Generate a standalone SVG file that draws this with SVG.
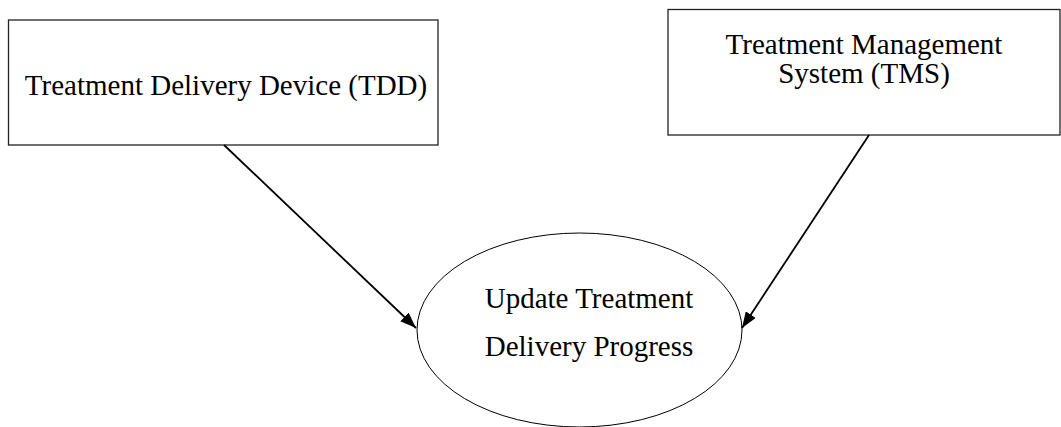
<svg xmlns="http://www.w3.org/2000/svg" width="1061" height="427" viewBox="0 0 1061 427">
<style>
.box{fill:#fff;stroke:#222;stroke-width:1.3}
.ell{fill:#fff;stroke:#000;stroke-width:1}
.lbl{font-family:"Liberation Serif","Times New Roman",serif;font-size:29px;fill:#000;text-anchor:middle}
.conn{stroke:#000;stroke-width:1.8;fill:none;marker-end:url(#arr)}
</style>
<defs>
<marker id="arr" viewBox="0 0 16 12" refX="16" refY="6" markerWidth="16" markerHeight="12" markerUnits="userSpaceOnUse" orient="auto">
<path d="M0,0 L16,6 L0,12 z" fill="#000"/>
</marker>
</defs>
<rect width="1061" height="427" fill="#fff"/>
<g id="tdd">
<rect class="box" x="8.5" y="20" width="429.5" height="125"/>
<text class="lbl" x="226" y="95">Treatment Delivery Device (TDD)</text>
</g>
<g id="tms">
<rect class="box" x="668" y="9.5" width="392" height="125.5"/>
<text class="lbl" x="864" y="54">Treatment Management</text>
<text class="lbl" x="864" y="83">System (TMS)</text>
</g>
<g id="update">
<ellipse class="ell" cx="579.5" cy="330" rx="162.5" ry="97"/>
<text class="lbl" x="589" y="308">Update Treatment</text>
<text class="lbl" x="589" y="356">Delivery Progress</text>
</g>
<g id="connectors">
<line class="conn" x1="224" y1="145" x2="416" y2="328"/>
<line class="conn" x1="869" y1="135" x2="742" y2="328"/>
</g>
</svg>
